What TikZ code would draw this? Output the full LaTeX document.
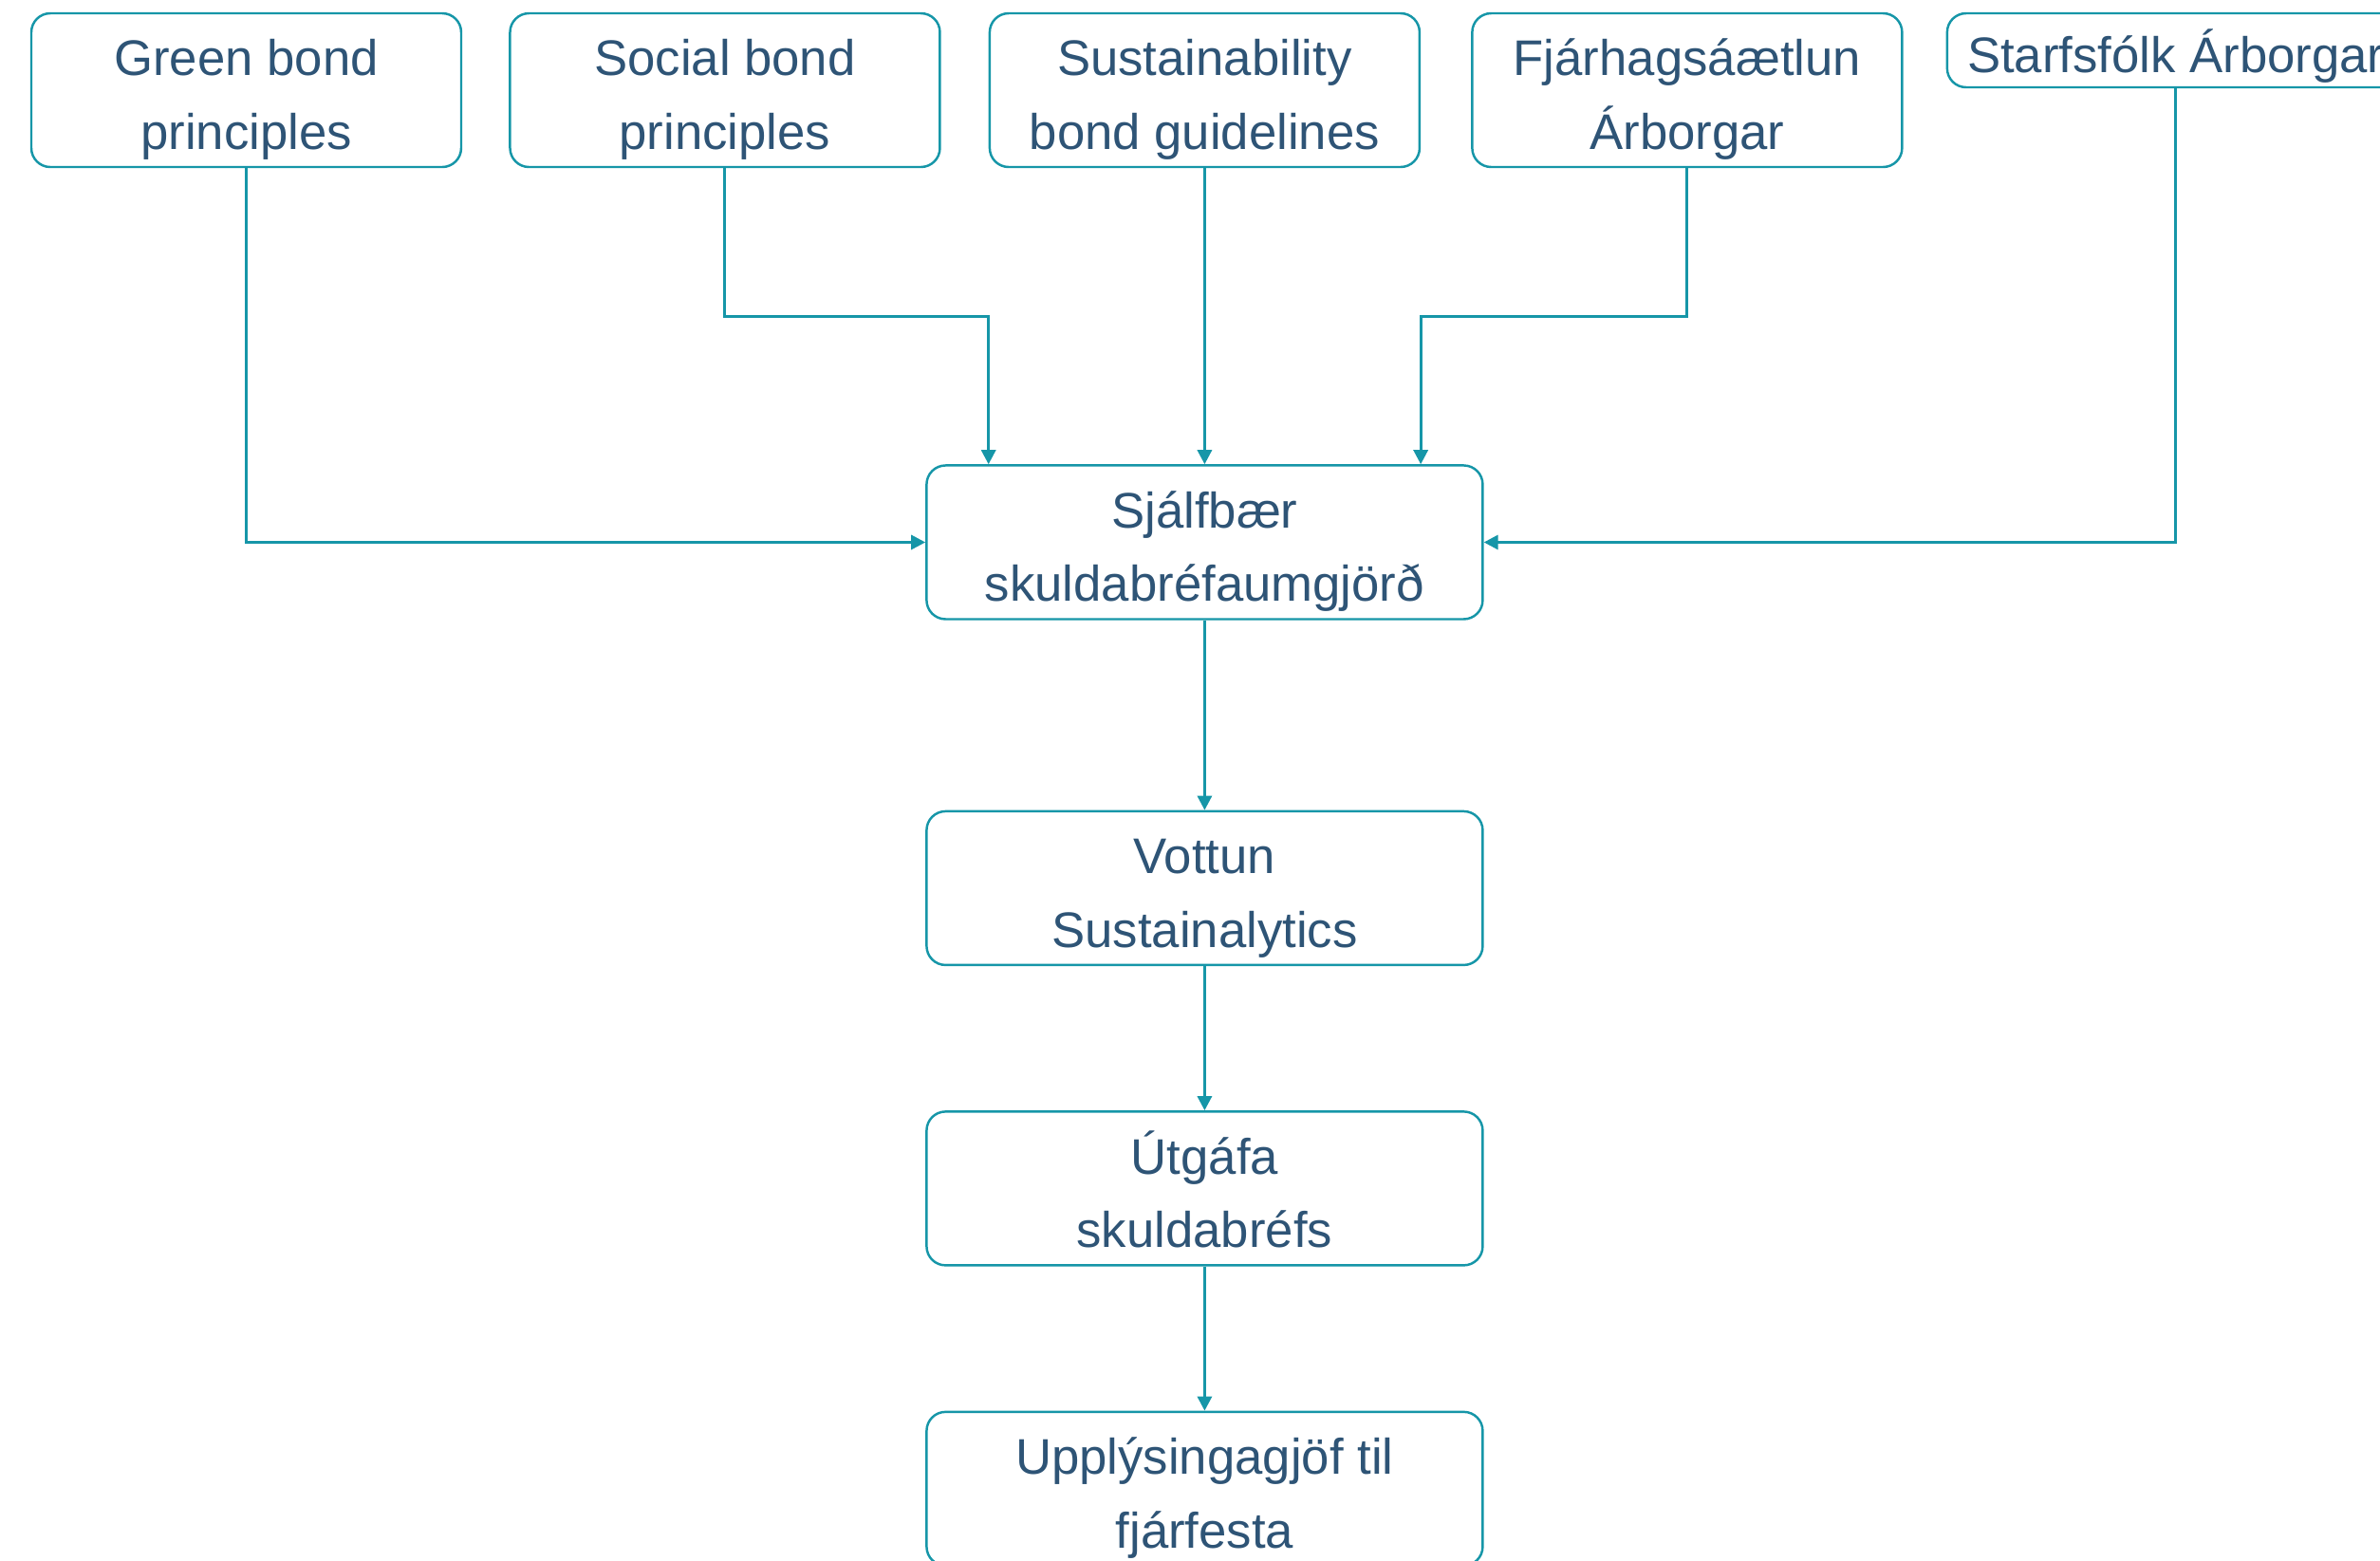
\documentclass[tikz,border=0pt]{standalone}
\usepackage{fontspec}
\setmainfont{Liberation Sans}
\usepackage{tikz}
\usetikzlibrary{arrows.meta,positioning,calc}
\usepackage{xcolor}
\definecolor{bondteal}{RGB}{22,150,168}
\definecolor{bondnavy}{RGB}{46,84,118}
\newcommand{\bondhead}{\rule{0pt}{0.58cm}}
\newcommand{\bondfoot}{\rule[-0.11cm]{0pt}{0.11cm}}
\newcommand{\bondtext}[2]{\bondhead#1\\#2\bondfoot}

\begin{document}
\begin{tikzpicture}[
    node distance=0.5cm,
    every node/.style={font=\fontsize{15}{22}\selectfont, text=bondnavy},
    srcbox/.style={draw=bondteal, line width=0.7pt, rounded corners=0.2cm, fill=white,
                   minimum width=4.53cm, minimum height=1.62cm, align=center, inner sep=0pt},
    flowbox/.style={srcbox, minimum width=5.86cm},
    arr/.style={-{Triangle[length=0.15cm, width=0.15cm]}, draw=bondteal, line width=0.85pt}
  ]
  \useasboundingbox (0,0) rectangle (25.08,-16.44);
  \clip (0,0) rectangle (25.08,-16.44);

  % Top: frameworks and inputs
  \node[srcbox] (gbp) at (2.595,-0.95) {\bondtext{Green bond}{principles}};
  \node[srcbox, right=0.49cm of gbp] (sbp) {\bondtext{Social bond}{principles}};
  \node[srcbox, right=0.50cm of sbp] (sbg) {\bondtext{Sustainability}{bond guidelines}};
  \node[srcbox, right=0.53cm of sbg] (fja) {\bondtext{Fjárhagsáætlun}{Árborgar}};
  \node[srcbox, minimum width=4.82cm, minimum height=0.78cm, anchor=north west] (sta)
    at ($(fja.north east)+(0.45,0)$) {\bondhead Starfsfólk Árborgar\bondfoot};

  % Middle: framework and the steps after it
  \node[flowbox, below=3.12cm of sbg] (sja) {\bondtext{Sjálfbær}{skuldabréfaumgjörð}};
  \node[flowbox, below=2.0cm of sja] (vot) {\bondtext{Vottun}{Sustainalytics}};
  \node[flowbox, below=1.52cm of vot] (utg) {\bondtext{Útgáfa}{skuldabréfs}};
  \node[flowbox, below=1.52cm of utg] (upp) {\bondtext{Upplýsingagjöf til}{fjárfesta}};

  % Rail between the top row and the framework
  \coordinate (rail) at ($(sbg.south)!0.5!(sja.north)$);

  \draw[arr] (gbp.south) |- (sja.west);
  \draw[arr] (sbp.south) -- (sbp.south |- rail) -| (sbg.west |- sja.north);
  \draw[arr] (sbg.south) -- (sja.north);
  \draw[arr] (fja.south) -- (fja.south |- rail) -| (sbg.east |- sja.north);
  \draw[arr] (sta.south) |- (sja.east);

  % Steps down
  \draw[arr] (sja) -- (vot);
  \draw[arr] (vot) -- (utg);
  \draw[arr] (utg) -- (upp);
\end{tikzpicture}
\end{document}
